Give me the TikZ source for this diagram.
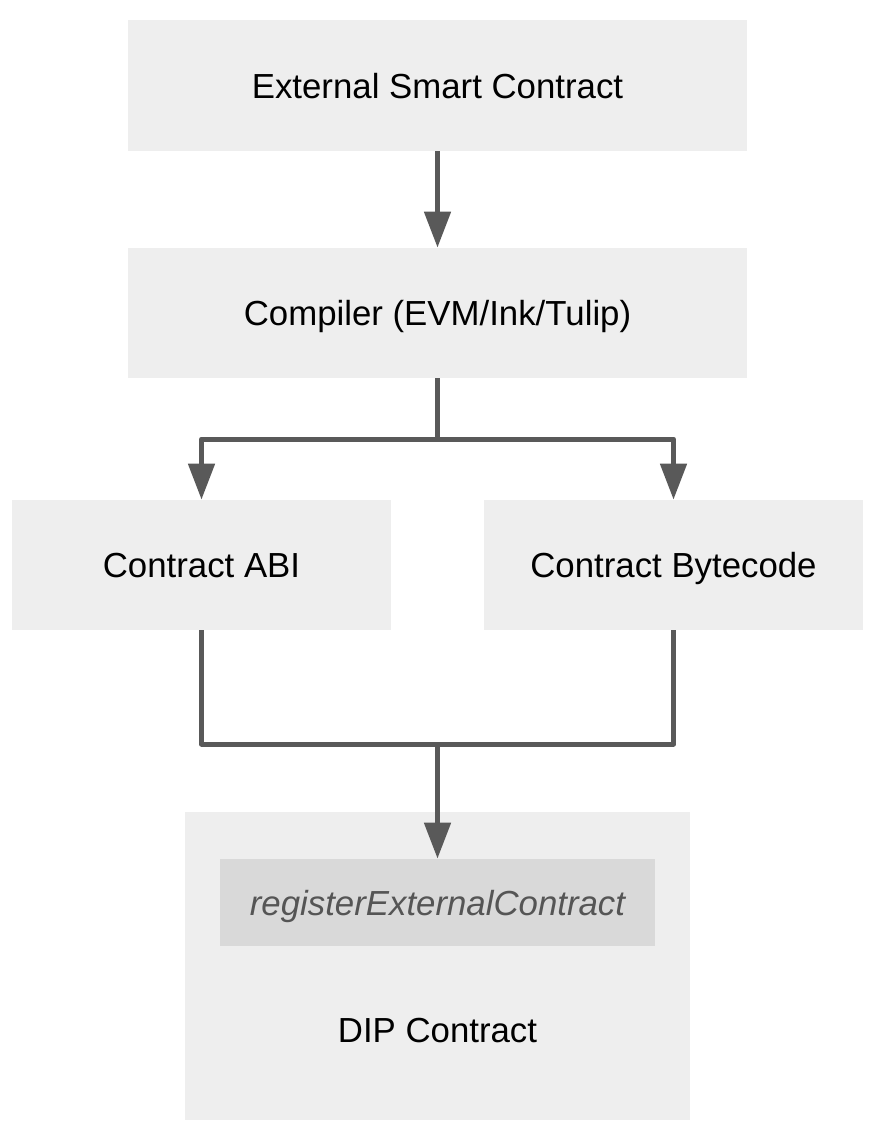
\documentclass[tikz,border=0pt]{standalone}
\usepackage{fontspec}
\setmainfont{Liberation Sans}
\usetikzlibrary{arrows.meta}
\definecolor{boxgray}{HTML}{EEEEEE}
\definecolor{fngray}{HTML}{D9D9D9}
\definecolor{linegray}{HTML}{595959}
\definecolor{textgray}{HTML}{555555}
\tikzset{
  block/.style={fill=boxgray, inner sep=0pt, text height=12.5pt, text depth=0pt, font=\fontsize{17.4}{20}\selectfont},
  fnblock/.style={fill=fngray, inner sep=0pt, text=textgray, text height=12.5pt, text depth=0pt, font=\fontsize{17.4}{20}\selectfont\itshape},
  link/.style={draw=linegray, line width=2.5pt, line join=round},
  flow/.style={link, -{Triangle[length=18pt,width=13pt]}},
}
\begin{document}
\begin{tikzpicture}[x=0.5pt, y=-0.5pt]
\useasboundingbox (0,0) rectangle (882,1140);
\node[block, minimum width=309.5pt, minimum height=65.5pt] (ext) at (437.5,85.5) {External Smart Contract};
\node[block, minimum width=309.5pt, minimum height=65pt] (comp) at (437.5,313) {Compiler (EVM/Ink/Tulip)};
\node[block, minimum width=189.5pt, minimum height=65pt] (abi) at (201.5,565) {Contract ABI};
\node[block, minimum width=189.5pt, minimum height=65pt] (byte) at (673.5,565) {Contract Bytecode};
\node[block, minimum width=252.5pt, minimum height=154pt] (dip) at (437.5,966) {};
\node[fnblock, minimum width=217.5pt, minimum height=43.5pt] (reg) at (437.5,902.5) {registerExternalContract};
\node[anchor=center, inner sep=0pt, text height=12.5pt, text depth=0pt, font=\fontsize{17.4}{20}\selectfont] (diplabel) at (437.5,1030) {DIP Contract};

\coordinate (split) at (437.5,439);
\coordinate (merge) at (437.5,744);

\draw[flow] (ext.south) -- (comp.north);
\draw[link] (comp.south) -- (split);
\draw[flow] (split) -| (abi.north);
\draw[flow] (split) -| (byte.north);
\draw[link] (abi.south) |- (merge) -| (byte.south);
\draw[flow] (merge) -- (reg.north);
\end{tikzpicture}
\end{document}
